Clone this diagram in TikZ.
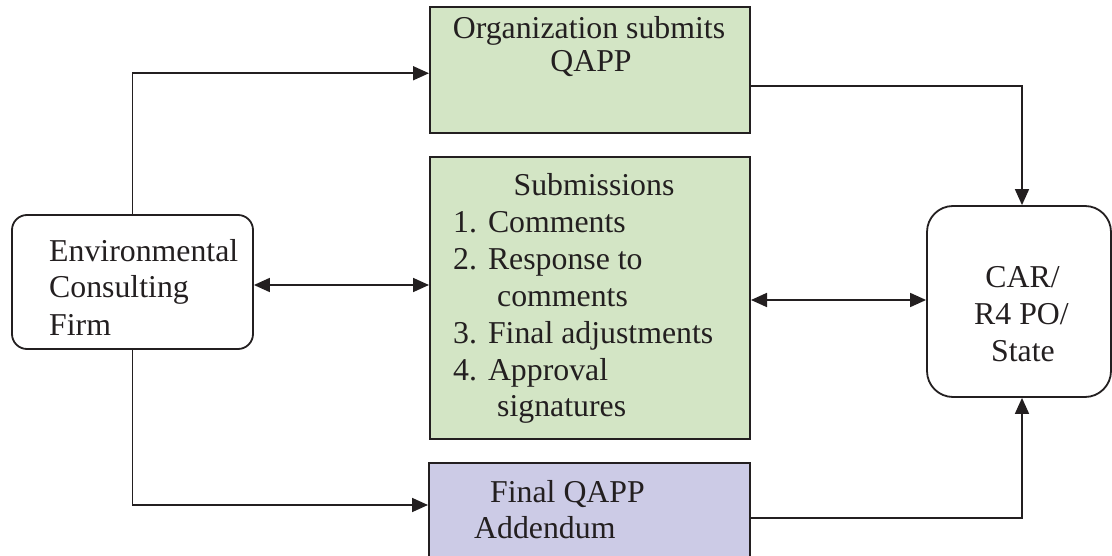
\documentclass[tikz,border=0pt]{standalone}
\usepackage{fontspec}
\setmainfont{Liberation Serif}
\usetikzlibrary{arrows.meta}
\definecolor{boxgreen}{RGB}{211,229,197}
\definecolor{boxpurple}{RGB}{204,203,230}
\definecolor{ink}{RGB}{35,31,32}
\tikzset{
  box/.style={draw=ink, line width=2pt, rectangle, inner sep=0pt},
  rbox/.style={draw=ink, line width=1.8pt, rectangle, inner sep=0pt, fill=white},
  txt/.style={inner sep=0pt, font=\fontsize{31.8}{36.8}\selectfont, text=ink},
  arr/.style={draw=ink, line width=1.7pt, -{Triangle[length=16pt,width=14pt]}},
  darr/.style={draw=ink, line width=1.7pt, {Triangle[length=16pt,width=14pt]}-{Triangle[length=16pt,width=14pt]}}
}
\begin{document}
\begin{tikzpicture}[x=1pt,y=-1pt]
\useasboundingbox (0,0) rectangle (1112,556);
\clip (0,0) rectangle (1112,556);
\fill[white] (0,0) rectangle (1112,556);
% boxes
\node[box, fill=boxgreen, minimum width=320pt, minimum height=125.5pt] (org) at (590,70.25) {};
\node[box, fill=boxgreen, minimum width=320pt, minimum height=282pt] (sub) at (590,298) {};
\node[box, fill=boxpurple, minimum width=321pt, minimum height=137pt] (fin) at (589.5,531.5) {};
\node[rbox, rounded corners=15pt, minimum width=241pt, minimum height=134pt] (env) at (132.5,282) {};
\node[rbox, rounded corners=26pt, minimum width=184pt, minimum height=191pt] (car) at (1019,301.5) {};
% texts
\node[txt, anchor=base] (orgA) at (589,39) {Organization submits};
\node[txt, anchor=base] (orgB) at (591,72) {QAPP};
\node[txt, anchor=base] (subT) at (594,196) {Submissions};
\node[txt, anchor=base west] (s1) at (453,232.8) {1.\hspace{11pt}Comments};
\node[txt, anchor=base west] (s2) at (453,269.6) {2.\hspace{11pt}Response to};
\node[txt, anchor=base west] (s2b) at (497,306.4) {comments};
\node[txt, anchor=base west] (s3) at (453,343.2) {3.\hspace{11pt}Final adjustments};
\node[txt, anchor=base west] (s4) at (453,380) {4.\hspace{11pt}Approval};
\node[txt, anchor=base west] (s4b) at (497,416.8) {signatures};
\node[txt, anchor=base west] (finA) at (490,502) {Final QAPP};
\node[txt, anchor=base west] (finB) at (474,538) {Addendum};
\node[txt, anchor=base west] (envA) at (49,262) {Environmental};
\node[txt, anchor=base west] (envB) at (49,298) {Consulting};
\node[txt, anchor=base west] (envC) at (49,335) {Firm};
\node[txt, anchor=base] (carA) at (1022.5,288) {CAR/};
\node[txt, anchor=base] (carB) at (1021.5,325) {R4 PO/};
\node[txt, anchor=base] (carC) at (1023,362) {State};
% connectors
\draw[arr] (env.north) |- ([yshift=-3pt]org.west);
\draw[arr] (env.south) |- ([yshift=26.5pt]fin.west);
\draw[arr] ([yshift=-16pt]org.east) -| ([xshift=3pt]car.north);
\draw[arr] ([yshift=13.5pt]fin.east) -| ([xshift=3pt]car.south);
\draw[darr] ([yshift=-3pt]env.east) -- ([yshift=-3pt]env.east -| sub.west);
\draw[darr] ([yshift=-2pt]sub.east) -- ([yshift=-2pt]sub.east -| car.west);
\end{tikzpicture}
\end{document}
